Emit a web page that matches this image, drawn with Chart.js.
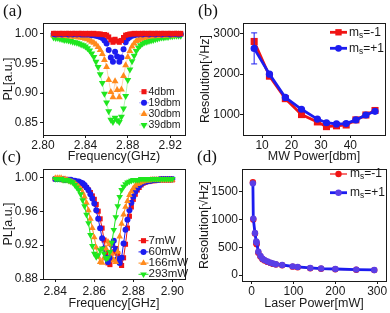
<!DOCTYPE html>
<html>
<head>
<meta charset="utf-8">
<script src="https://cdn.jsdelivr.net/npm/chart.js@4.4.0/dist/chart.umd.min.js"></script>
<style>
  html, body { margin: 0; padding: 0; background: #fff; }
  #wrap { position: relative; width: 390px; height: 313px; overflow: hidden; }
  canvas { position: absolute; }
  .tag { position: absolute; font-family: "Liberation Serif", "DejaVu Serif", serif; font-size: 17px; line-height: 17px; color: #111; }
</style>
</head>
<body>
<div id="wrap">
  <canvas id="chartA" width="195" height="165" style="left:0;top:0"></canvas>
  <canvas id="chartB" width="195" height="165" style="left:195px;top:0"></canvas>
  <canvas id="chartC" width="195" height="163" style="left:0;top:150px"></canvas>
  <canvas id="chartD" width="195" height="163" style="left:195px;top:150px"></canvas>
  <div class="tag" style="left:3px;top:2px">(a)</div>
  <div class="tag" style="left:198px;top:2px">(b)</div>
  <div class="tag" style="left:2px;top:148px">(c)</div>
  <div class="tag" style="left:197px;top:148px">(d)</div>
</div>
<script>
// ----- DATA: (a) ODMR vs MW power -----
const aFreq = [2.810,2.812,2.814,2.816,2.818,2.820,2.822,2.824,2.826,2.828,
  2.830,2.832,2.834,2.836,2.838,2.840,2.842,2.844,2.846,2.848,
  2.850,2.852,2.854,2.856,2.858,2.860,2.862,2.864,2.866,2.868,
  2.870,2.872,2.874,2.876,2.878,2.880,2.882,2.884,2.886,2.888,
  2.890,2.892,2.894,2.896,2.898,2.900,2.902,2.904,2.906,2.908,
  2.910,2.912,2.914,2.916,2.918,2.920,2.922,2.924,2.926,2.928,2.930];
const a4dbm = [1.001,1.001,1.000,1.001,1.001,1.000,1.001,1.001,1.000,1.001,
  1.001,1.000,1.001,1.001,1.000,1.001,1.000,1.001,1.000,1.001,
  1.000,1.000,1.000,0.999,0.999,0.998,0.995,0.990,0.986,0.991,
  0.988,0.986,0.989,0.994,0.998,0.999,1.000,1.000,1.001,1.000,
  1.001,1.000,1.001,1.001,1.000,1.001,1.001,1.000,1.001,1.001,
  1.000,1.001,1.001,1.000,1.001,1.001,1.000,1.001,1.001,1.000,1.001];
const a19dbm = [1.000,0.999,1.000,1.000,0.999,1.000,1.000,0.999,1.000,0.999,
  1.000,0.999,1.000,0.999,0.999,0.999,0.999,0.999,0.998,0.998,
  0.997,0.996,0.995,0.993,0.989,0.984,0.973,0.960,0.953,0.970,
  0.962,0.953,0.960,0.974,0.986,0.992,0.995,0.997,0.998,0.999,
  0.999,1.000,0.999,1.000,1.000,0.999,1.000,1.000,0.999,1.000,
  1.000,0.999,1.000,1.000,1.000,0.999,1.000,1.000,1.000,0.999,1.000];
const a30dbm = [0.998,0.998,0.998,0.998,0.997,0.997,0.997,0.996,0.996,0.996,
  0.995,0.995,0.994,0.994,0.993,0.992,0.991,0.989,0.987,0.985,
  0.982,0.978,0.973,0.966,0.956,0.944,0.922,0.902,0.893,0.920,
  0.905,0.893,0.906,0.929,0.947,0.961,0.971,0.979,0.984,0.988,
  0.990,0.992,0.993,0.994,0.995,0.996,0.996,0.996,0.997,0.997,
  0.997,0.997,0.998,0.998,0.998,0.998,0.998,0.998,0.999,0.999,0.999];
const a39dbm = [0.994,0.993,0.993,0.992,0.991,0.990,0.990,0.989,0.988,0.987,
  0.986,0.985,0.984,0.982,0.981,0.979,0.976,0.972,0.967,0.961,
  0.953,0.944,0.932,0.917,0.899,0.884,0.869,0.855,0.851,0.858,
  0.854,0.851,0.860,0.874,0.895,0.922,0.940,0.954,0.963,0.971,
  0.977,0.981,0.984,0.986,0.987,0.988,0.989,0.990,0.991,0.992,
  0.993,0.994,0.994,0.995,0.995,0.996,0.996,0.997,0.997,0.997,0.997];
const aXTicks = [2.80, 2.84, 2.88, 2.92];
const aYTicks = [0.85, 0.90, 0.95, 1.00];

// ----- DATA: (b) resolution vs MW power -----
const bPower = [7.3, 12.5, 17.9, 23.4, 28.8, 31.9, 35.3, 38.6, 41.9, 45.3, 48.4];
const bMinus = [2800, 1950, 1400, 1010, 830, 715, 735, 755, 880, 1000, 1110];
const bPlus = [2630, 2000, 1430, 1140, 900, 810, 780, 790, 880, 1000, 1090];
const bPlusErr = [380, 0, 0, 0, 0, 0, 0, 0, 0, 0, 0];
const bXTicks = [10, 20, 30, 40];
const bYTicks = [1000, 2000, 3000];

// ----- DATA: (c) ODMR vs laser power -----
const cFreq = [2.840,2.841,2.842,2.843,2.844,2.845,2.846,2.847,2.848,2.849,
  2.850,2.851,2.852,2.853,2.854,2.855,2.856,2.857,2.858,2.859,
  2.860,2.861,2.862,2.863,2.864,2.865,2.866,2.867,2.868,2.869,
  2.870,2.871,2.872,2.873,2.874,2.875,2.876,2.877,2.878,2.879,
  2.880,2.881,2.882,2.883,2.884,2.885,2.886,2.887,2.888,2.889,
  2.890,2.891,2.892,2.893,2.894,2.895,2.896,2.897,2.898,2.899,2.900];
const c7mW = [0.998,0.998,0.998,0.998,0.997,0.997,0.997,0.997,0.996,0.996,
  0.995,0.995,0.994,0.993,0.992,0.990,0.988,0.985,0.982,0.978,
  0.974,0.968,0.960,0.951,0.940,0.926,0.911,0.899,0.897,0.903,
  0.912,0.916,0.910,0.901,0.896,0.905,0.921,0.940,0.954,0.965,
  0.974,0.980,0.985,0.988,0.991,0.993,0.994,0.995,0.995,0.996,
  0.996,0.996,0.997,0.997,0.997,0.997,0.997,0.997,0.997,0.997,0.997];
const c60mW = [0.998,0.998,0.998,0.998,0.998,0.997,0.997,0.997,0.997,0.996,
  0.996,0.995,0.995,0.994,0.993,0.991,0.988,0.985,0.980,0.975,
  0.969,0.961,0.951,0.940,0.928,0.916,0.905,0.900,0.905,0.920,
  0.925,0.915,0.904,0.899,0.905,0.922,0.938,0.950,0.961,0.970,
  0.977,0.983,0.987,0.990,0.992,0.994,0.995,0.995,0.996,0.996,
  0.997,0.997,0.997,0.997,0.998,0.998,0.998,0.998,0.998,0.998,0.998];
const c166mW = [0.999,0.999,0.999,0.999,0.998,0.998,0.997,0.996,0.995,0.994,
  0.993,0.991,0.989,0.986,0.982,0.977,0.970,0.961,0.951,0.940,
  0.929,0.917,0.906,0.900,0.899,0.905,0.916,0.924,0.921,0.910,
  0.902,0.900,0.912,0.930,0.945,0.956,0.965,0.972,0.979,0.983,
  0.987,0.990,0.992,0.993,0.994,0.995,0.996,0.996,0.996,0.997,
  0.997,0.997,0.997,0.997,0.997,0.997,0.997,0.997,0.997,0.997,0.997];
const c293mW = [0.998,0.998,0.998,0.998,0.997,0.997,0.997,0.996,0.995,0.994,
  0.991,0.988,0.985,0.980,0.973,0.966,0.956,0.946,0.932,0.919,
  0.910,0.906,0.908,0.914,0.916,0.910,0.904,0.905,0.912,0.923,
  0.938,0.953,0.966,0.977,0.985,0.989,0.992,0.994,0.995,0.996,
  0.997,0.997,0.997,0.997,0.998,0.998,0.998,0.998,0.998,0.998,
  0.998,0.998,0.998,0.998,0.998,0.998,0.998,0.998,0.998,0.998,0.998];
const cXTicks = [2.84, 2.86, 2.88, 2.90];
const cYTicks = [0.88, 0.92, 0.96, 1.00];

// ----- DATA: (d) resolution vs laser power -----
const dPower = [3, 4, 8, 11, 12, 16, 21, 26, 31, 38, 45, 51, 58, 73, 98, 110, 140, 166, 200, 250, 293];
const dMinus = [1670, 1000, 745, 575, 555, 400, 335, 285, 262, 236, 218, 200, 190, 175, 150, 140, 122, 112, 104, 94, 88];
const dPlus = [1650, 1015, 755, 605, 585, 420, 345, 292, 268, 242, 222, 206, 194, 180, 156, 146, 127, 116, 108, 97, 91];
const dXTicks = [0, 100, 200, 300];
const dYTicks = [0, 500, 1000, 1500];

// ----- COMMON -----
const FONT = '"Liberation Sans", Arial, sans-serif';
const INK = '#1a1a1a';

function drawMarker(ctx, style, x, y, r, rot) {
  ctx.beginPath();
  if (style === 'rect') {
    const s = r * Math.SQRT1_2;
    ctx.rect(x - s, y - s, 2 * s, 2 * s);
  } else if (style === 'triangle') {
    const k = rot ? -1 : 1;
    ctx.moveTo(x, y - k * r);
    ctx.lineTo(x + r * 0.866, y + k * r * 0.5);
    ctx.lineTo(x - r * 0.866, y + k * r * 0.5);
    ctx.closePath();
  } else {
    ctx.arc(x, y, r, 0, Math.PI * 2);
  }
  ctx.fill();
}

// box around the plot area
const framePlugin = {
  id: 'frame',
  afterDatasetsDraw(chart) {
    const { ctx, chartArea: a } = chart;
    ctx.save();
    ctx.strokeStyle = INK;
    ctx.lineWidth = 1;
    const l = Math.round(a.left) + 0.5, t = Math.round(a.top) + 0.5;
    ctx.strokeRect(l, t, Math.round(a.right) - Math.round(a.left), Math.round(a.bottom) - Math.round(a.top));
    ctx.restore();
  }
};

// hand drawn key, so the subscript in m_s can be drawn
const keyPlugin = {
  id: 'key',
  afterDraw(chart, args, o) {
    if (!o || !o.items) return;
    const ctx = chart.ctx;
    o.items.forEach((it, i) => {
      const y = o.y + i * o.dy;
      ctx.save();
      ctx.strokeStyle = it.line;
      ctx.lineWidth = it.lineWidth;
      ctx.beginPath(); ctx.moveTo(o.x, y); ctx.lineTo(o.x + o.len, y); ctx.stroke();
      ctx.fillStyle = it.color;
      drawMarker(ctx, it.style, o.x + o.len / 2, y, it.radius, it.rot);
      ctx.fillStyle = INK;
      ctx.textBaseline = 'middle';
      let tx = o.tx;
      it.parts.forEach(p => {
        const size = p.sub ? o.font * 0.7 : o.font;
        ctx.font = size + 'px ' + FONT;
        ctx.fillText(p.t, tx, p.sub ? y + 3 : y);
        tx += ctx.measureText(p.t).width;
      });
      ctx.restore();
    });
  }
};

// vertical error bars for one dataset
const errPlugin = {
  id: 'errbars',
  afterDatasetsDraw(chart, args, o) {
    if (!o || !o.err) return;
    const { ctx, scales: { x, y } } = chart;
    ctx.save();
    ctx.strokeStyle = o.color;
    ctx.lineWidth = 1;
    o.xs.forEach((xv, i) => {
      const e = o.err[i];
      if (!e) return;
      const px = x.getPixelForValue(xv);
      const y1 = y.getPixelForValue(o.ys[i] + e), y2 = y.getPixelForValue(o.ys[i] - e);
      ctx.beginPath();
      ctx.moveTo(px, y1); ctx.lineTo(px, y2);
      ctx.moveTo(px - 3, y1); ctx.lineTo(px + 3, y1);
      ctx.moveTo(px - 3, y2); ctx.lineTo(px + 3, y2);
      ctx.stroke();
    });
    ctx.restore();
  }
};

function axis(min, max, ticks, fmt, title, size, tickPad, titlePad) {
  return {
    type: 'linear', min, max,
    afterBuildTicks: s => { s.ticks = ticks.map(v => ({ value: v })); },
    afterFit: s => { if (s.isHorizontal()) s.height = size; else s.width = size; },
    ticks: { color: INK, font: { family: FONT, size: 12 }, padding: tickPad, maxRotation: 0, autoSkip: false,
      callback: fmt },
    grid: { drawOnChartArea: false, drawTicks: true, tickLength: 3, color: INK },
    border: { display: true, color: INK, width: 1 },
    title: { display: true, text: title, color: INK, font: { family: FONT, size: 12.5 }, padding: { top: titlePad, bottom: titlePad } }
  };
}

function series(label, xs, ys, color, line, lineWidth, style, radius, rot, order) {
  return {
    label, order,
    data: xs.map((x, i) => ({ x, y: ys[i] })),
    showLine: true,
    borderColor: line, borderWidth: lineWidth,
    pointStyle: style, pointRadius: radius, pointRotation: rot,
    pointBackgroundColor: color, pointBorderWidth: 0
  };
}

function makeChart(id, datasets, scales, padding, plugins) {
  return new Chart(document.getElementById(id), {
    type: 'scatter',
    data: { datasets },
    options: {
      responsive: false, animation: false, devicePixelRatio: 1,
      layout: { padding },
      scales,
      plugins: Object.assign({ legend: { display: false }, tooltip: { enabled: false } }, plugins)
    },
    plugins: [framePlugin, keyPlugin, errPlugin]
  });
}

const RED = '#f01414', BLUE = '#1c1cf0', ORANGE = '#ff8a1c', GREEN = '#1fe61f';
const f2 = v => v.toFixed(2);
const f0 = v => String(v);
const msMinus = [{ t: 'm' }, { t: 's', sub: true }, { t: '=-1' }];
const msPlus = [{ t: 'm' }, { t: 's', sub: true }, { t: '=+1' }];

// ----- (a) -----
makeChart('chartA', [
  series('4dbm', aFreq, a4dbm, RED, 'rgba(240,20,20,0.35)', 1, 'rect', 3.6, 0, 0),
  series('19dbm', aFreq, a19dbm, BLUE, 'rgba(28,28,240,0.35)', 1, 'circle', 3, 0, 1),
  series('30dbm', aFreq, a30dbm, ORANGE, 'rgba(255,138,28,0.35)', 1, 'triangle', 4, 0, 2),
  series('39dbm', aFreq, a39dbm, GREEN, 'rgba(31,230,31,0.35)', 1, 'triangle', 4, 180, 3)
], {
  x: axis(2.80, 2.934, aXTicks, f2, 'Frequency(GHz)', 30, 0, 1),
  y: axis(0.829, 1.0186, aYTicks, f2, 'PL[a.u.]', 43, 2, 1)
}, { left: 0, top: 23, right: 10, bottom: 0 }, {
  key: { x: 139, len: 10, tx: 148.5, y: 91.7, dy: 11.1, font: 10.5, items: [
    { color: RED, line: 'rgba(240,20,20,0.35)', lineWidth: 1, style: 'rect', radius: 3.6, parts: [{ t: '4dbm' }] },
    { color: BLUE, line: 'rgba(28,28,240,0.35)', lineWidth: 1, style: 'circle', radius: 3, parts: [{ t: '19dbm' }] },
    { color: ORANGE, line: 'rgba(255,138,28,0.35)', lineWidth: 1, style: 'triangle', radius: 4, parts: [{ t: '30dbm' }] },
    { color: GREEN, line: 'rgba(31,230,31,0.35)', lineWidth: 1, style: 'triangle', radius: 4, rot: 180, parts: [{ t: '39dbm' }] }
  ] }
});

// ----- (b) -----
makeChart('chartB', [
  series('ms=-1', bPower, bMinus, RED, RED, 2.8, 'rect', 5, 0, 1),
  series('ms=+1', bPower, bPlus, BLUE, BLUE, 2.8, 'circle', 3.6, 0, 0)
], {
  x: axis(3.5, 51.8, bXTicks, f0, 'MW Power[dbm]', 30, 0, 1),
  y: axis(510, 3252, bYTicks, f0, 'Resolution[\u221AHz]', 48, 0, 3)
}, { left: 0, top: 23, right: 2, bottom: 0 }, {
  key: { x: 135, len: 17, tx: 154, y: 32.3, dy: 16, font: 12, items: [
    { color: RED, line: RED, lineWidth: 2.8, style: 'rect', radius: 4.5, parts: msMinus },
    { color: BLUE, line: BLUE, lineWidth: 2.8, style: 'circle', radius: 3.4, parts: msPlus }
  ] },
  errbars: { xs: bPower, ys: bPlus, err: bPlusErr, color: BLUE }
});

// ----- (c) -----
makeChart('chartC', [
  series('7mW', cFreq, c7mW, RED, RED, 1, 'rect', 3.6, 0, 3),
  series('60mW', cFreq, c60mW, BLUE, BLUE, 1, 'circle', 3, 0, 2),
  series('166mW', cFreq, c166mW, ORANGE, ORANGE, 1, 'triangle', 3.8, 0, 1),
  series('293mW', cFreq, c293mW, GREEN, GREEN, 1, 'triangle', 3.8, 180, 0)
], {
  x: axis(2.8337, 2.9065, cXTicks, f2, 'Frequency[GHz]', 34, 2.5, 2.2),
  y: axis(0.88, 1.0098, cYTicks, f2, 'PL[a.u.]', 43, 2, 1)
}, { left: 0, top: 19, right: 10, bottom: 0 }, {
  key: { x: 138.5, len: 10, tx: 148.5, y: 90.7, dy: 11.2, font: 11.5, items: [
    { color: RED, line: RED, lineWidth: 1, style: 'rect', radius: 3.6, parts: [{ t: '7mW' }] },
    { color: BLUE, line: BLUE, lineWidth: 1, style: 'circle', radius: 3, parts: [{ t: '60mW' }] },
    { color: ORANGE, line: ORANGE, lineWidth: 1, style: 'triangle', radius: 3.8, parts: [{ t: '166mW' }] },
    { color: GREEN, line: GREEN, lineWidth: 1, style: 'triangle', radius: 3.8, rot: 180, parts: [{ t: '293mW' }] }
  ] }
});

// ----- (d) -----
makeChart('chartD', [
  series('ms=-1', dPower, dMinus, RED, 'rgba(240,30,30,0.8)', 1.6, 'circle', 3.2, 0, 1),
  series('ms=+1', dPower, dPlus, '#5a3ee6', BLUE, 2.8, 'circle', 3.2, 0, 0)
], {
  x: axis(-23, 321, dXTicks, f0, 'Laser Power[mW]', 32, 0, 1.5),
  y: axis(-108, 1908, dYTicks, f0, 'Resolution[\u221AHz]', 47, 1, 2)
}, { left: 0, top: 19, right: 2, bottom: 0 }, {
  key: { x: 135, len: 17, tx: 155, y: 24, dy: 18.7, font: 12, items: [
    { color: RED, line: 'rgba(240,30,30,0.8)', lineWidth: 1.6, style: 'circle', radius: 3.2, parts: msMinus },
    { color: '#5a3ee6', line: BLUE, lineWidth: 2.8, style: 'circle', radius: 3.2, parts: msPlus }
  ] }
});
</script>
</body>
</html>
